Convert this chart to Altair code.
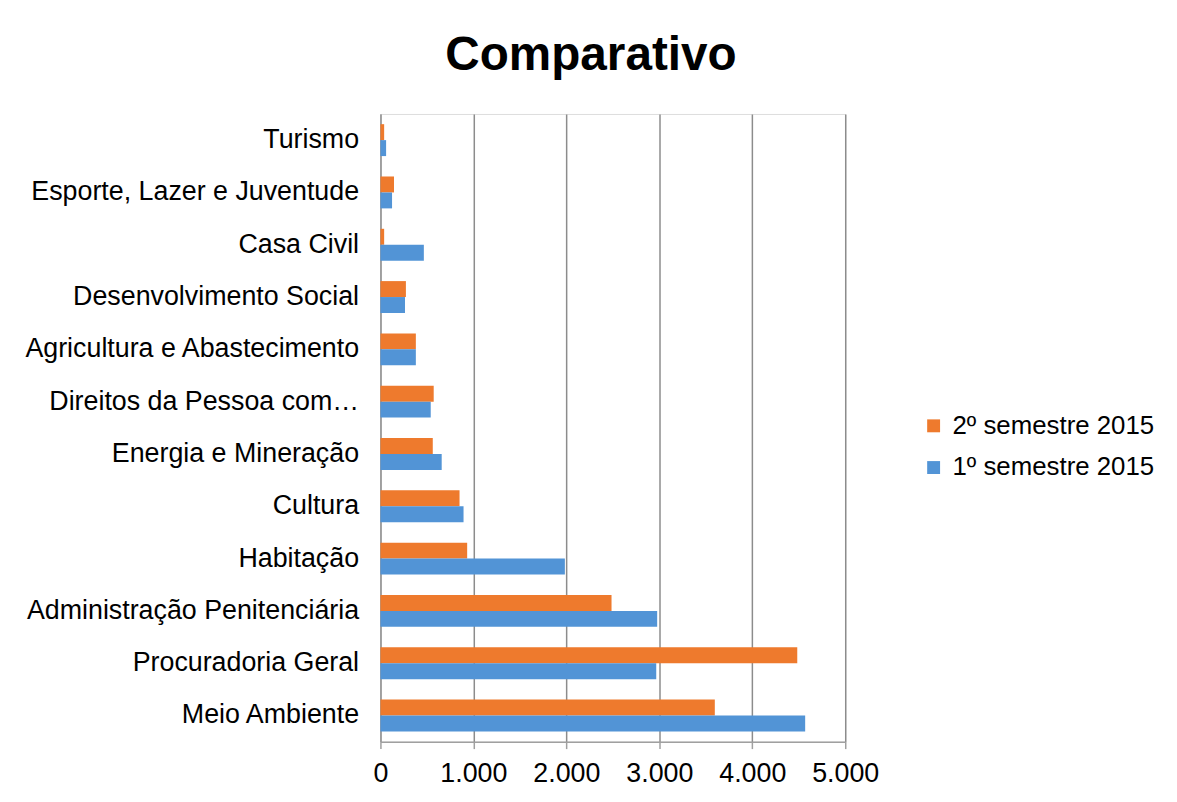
import altair as alt
import pandas as pd

categories = [
    "Turismo",
    "Esporte, Lazer e Juventude",
    "Casa Civil",
    "Desenvolvimento Social",
    "Agricultura e Abastecimento",
    "Direitos da Pessoa com Deficiência",
    "Energia e Mineração",
    "Cultura",
    "Habitação",
    "Administração Penitenciária",
    "Procuradoria Geral",
    "Meio Ambiente",
]
sem2 = [40, 146, 40, 274, 381, 573, 563, 851, 933, 2486, 4484, 3597]
sem1 = [61, 125, 467, 264, 381, 541, 659, 894, 1984, 2977, 2967, 4569]
series = ["2º semestre 2015", "1º semestre 2015"]
colors = ["#EE7A2D", "#5294D6"]
x_ticks = [0, 1000, 2000, 3000, 4000, 5000]

rows = []
for c, a, b in zip(categories, sem2, sem1):
    rows.append({"cat": c, "serie": series[0], "valor": a})
    rows.append({"cat": c, "serie": series[1], "valor": b})
df = pd.DataFrame(rows)

FONT = "Liberation Sans"

chart = alt.Chart(df).mark_bar().encode(
    y=alt.Y("cat:N", sort=categories, title=None,
            scale=alt.Scale(paddingInner=0.39, paddingOuter=0.195),
            axis=alt.Axis(labelFontSize=27, labelFont=FONT, labelColor="#000000",
                          ticks=False, labelPadding=22, labelLimit=500,
                          domainColor="#A0A0A0", domainWidth=1.5,
                          labelExpr="length(datum.label) > 30 ? substring(datum.label, 0, 22) + '…' : datum.label")),
    yOffset=alt.YOffset("serie:N", sort=series, scale=alt.Scale(paddingInner=0, paddingOuter=0)),
    x=alt.X("valor:Q", title=None,
            scale=alt.Scale(domain=[0, 5000], nice=False),
            axis=alt.Axis(values=x_ticks, labelExpr="replace(format(datum.value, ',d'), ',', '.')",
                          labelFontSize=27, labelFont=FONT, labelColor="#000000",
                          labelOverlap=False, labelFlush=False,
                          tickColor="#A0A0A0", tickWidth=1.5, tickSize=7,
                          domainColor="#A0A0A0", domainWidth=1.5, labelPadding=12,
                          grid=True, gridColor="#8C8C8C", gridWidth=1.5)),
    color=alt.Color("serie:N", sort=series,
                    scale=alt.Scale(domain=series, range=colors),
                    legend=alt.Legend(title=None, orient="none", legendX=544, legendY=301,
                                      labelFontSize=26, labelFont=FONT, labelColor="#000000",
                                      labelLimit=400,
                                      symbolType="square", symbolSize=169, symbolStrokeWidth=0,
                                      rowPadding=16, labelOffset=6)),
).properties(
    width=468,
    height=632,
    title=alt.TitleParams("Comparativo", fontSize=48, font=FONT, fontWeight="bold",
                          color="#000000", anchor="middle", dx=-22, offset=34),
    autosize=alt.AutoSizeParams(type="none"),
    padding={"left": 375, "top": 104, "right": 326, "bottom": 50},
).configure_view(stroke=None).configure(background="#FFFFFF")

chart.save("out.html", embed_options={"renderer": "svg", "actions": False})
